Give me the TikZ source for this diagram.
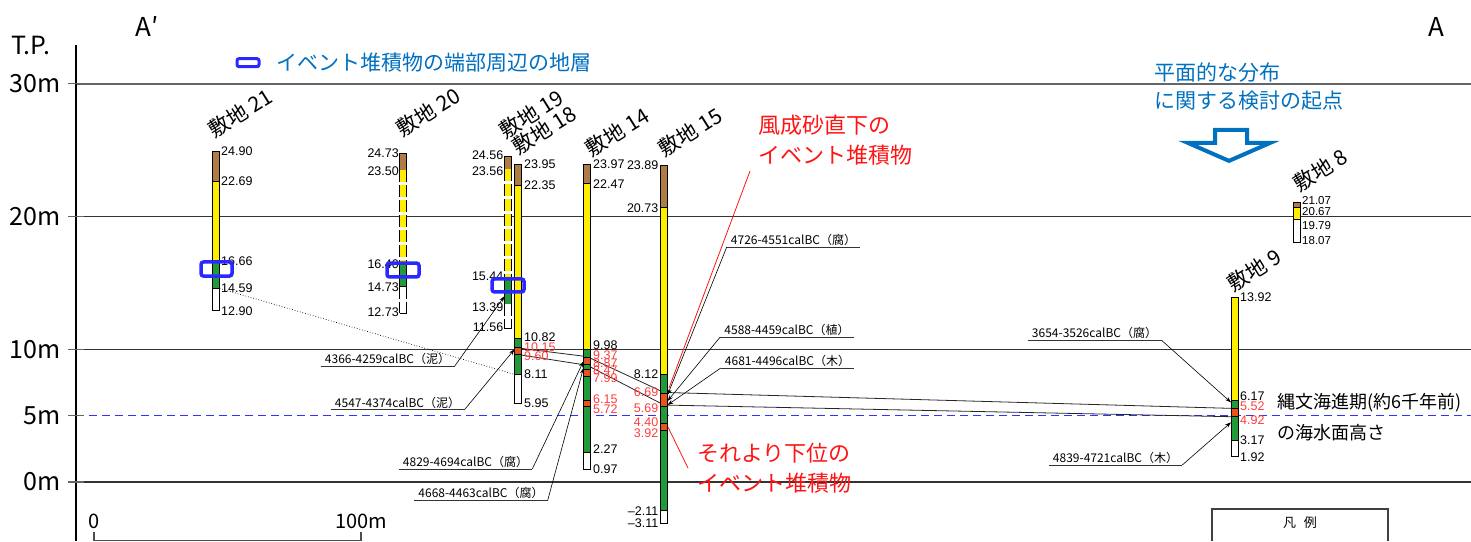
\documentclass[tikz,border=0pt]{standalone}
\usepackage{fontspec}
\setmainfont{Noto Sans CJK JP}
\newfontfamily\numfont{Liberation Sans}
\usetikzlibrary{arrows.meta}

\definecolor{soilbrown}{RGB}{176,124,70}
\definecolor{sandyellow}{RGB}{255,238,0}
\definecolor{claygreen}{RGB}{34,154,58}
\definecolor{eventorange}{RGB}{232,84,28}
\definecolor{redlabel}{RGB}{255,60,60}
\definecolor{notered}{RGB}{255,20,20}
\definecolor{noteblue}{RGB}{0,112,192}
\definecolor{markblue}{RGB}{40,40,255}
\definecolor{seablue}{RGB}{50,50,255}

% one layer of a boring column: x, top, bottom, colour
\newcommand{\layer}[4]{\filldraw[fill=#4, draw=black, line width=0.7pt] (#1-3.5,#2) rectangle (#1+3.5,#3);}
% same, but an uncertain layer (dashed)
\newcommand{\dlayer}[4]{\draw[#4, line width=7pt, dash pattern=on 12pt off 3pt] (#1,#2) -- (#1,#3);
  \draw[line width=0.7pt, dash pattern=on 12pt off 3pt] (#1-3.5,#2) -- (#1-3.5,#3) (#1+3.5,#2) -- (#1+3.5,#3);
  \draw[line width=0.7pt] (#1-3.5,#3) -- (#1+3.5,#3);}

\tikzset{
  depth/.style={font=\numfont\fontsize{12.5}{13}\selectfont, inner sep=0pt},
  site/.style={font=\fontsize{21}{22}\selectfont, rotate=32, inner sep=0pt},
  datebox/.style={font=\fontsize{12}{13}\selectfont, inner xsep=4pt, inner ysep=1.5pt, anchor=south},
  dateline/.style={line width=0.9pt, draw=black!80},
  leader/.style={line width=0.6pt, -{Stealth[length=6pt,width=4pt]}},
  markbox/.style={draw=markblue, line width=3.5pt, rounded corners=2.5pt},
  gridline/.style={line width=1.2pt, black!80},
  axislabel/.style={font=\fontsize{25}{26}\selectfont, inner sep=0pt},
  corr/.style={line width=0.8pt, black!85},
  sealevel/.style={draw=seablue, line width=1.6pt, dash pattern=on 8pt off 5pt},
}

\begin{document}
\begin{tikzpicture}[x=1pt, y=13.27pt]
\useasboundingbox (0,-4.446) rectangle (1471,36.323);

% elevation axis and level lines
\draw[line width=1.5pt, black!60] (76,30) -- (1471,30);
\draw[gridline] (76,20) -- (1471,20);
\draw[gridline] (76,10) -- (1471,10);
\draw[gridline] (76,0) -- (1471,0);
\draw[sealevel] (76,5) -- (1471,5);
\draw[line width=1.5pt] (76,32.9) -- (76,-4.446);
\foreach \h in {30,20,10,5,0} \draw[line width=1.2pt, black!60] (68,\h) -- (84,\h);
\node[axislabel] (tp) at (31,32.86) {T.P.};
\foreach \h/\t in {30/30m, 20/20m, 10/10m, 5/5m, 0/0m}
  \node[axislabel, anchor=east] (lv\h) at (61,\h) {\t};
\node[axislabel, font=\fontsize{26}{27}\selectfont] (aprime) at (147,34.29) {A′};
\node[axislabel, font=\fontsize{26}{27}\selectfont] (aend) at (1436,34.29) {A};

% legend for the blue frames
\draw[markblue, line width=3pt, rounded corners=2pt] (237,31.9) rectangle (259,31.3);
\node[text=noteblue, font=\fontsize{21}{22}\selectfont, anchor=west] (legtext) at (273,31.6) {イベント堆積物の端部周辺の地層};

% correlation of the event deposits
\draw[corr] (521,10.07) -- (587,9.45) -- (664,6.75) -- (1231,5.55);
\draw[corr] (521,9.57) -- (587,8.8) -- (664,5.8) -- (1231,4.92);
\draw[line width=0.7pt, dotted] (219.5,14.59) -- (514.5,8.11);

% 敷地21
\layer{216}{24.90}{22.69}{soilbrown}
\layer{216}{22.69}{16.66}{sandyellow}
\layer{216}{16.66}{14.59}{claygreen}
\layer{216}{14.59}{12.90}{white}
\foreach \t/\y [count=\i] in {24.90/24.90, 22.69/22.69, 16.66/16.66, 14.59/14.59, 12.90/12.90}
  \node[depth, anchor=west] (n21-\i) at (221,\y) {\t};

% 敷地20
\layer{403}{24.73}{23.50}{soilbrown}
\dlayer{403}{23.50}{16.40}{sandyellow}
\layer{403}{16.40}{14.73}{claygreen}
\dlayer{403}{14.73}{12.73}{white}
\foreach \t/\y [count=\i] in {24.73/24.8, 23.50/23.45, 16.40/16.4, 14.73/14.65, 12.73/12.8}
  \node[depth, anchor=east] (n20-\i) at (399,\y) {\t};

% 敷地19
\layer{508}{24.56}{23.56}{soilbrown}
\dlayer{508}{23.56}{15.44}{sandyellow}
\layer{508}{15.44}{13.39}{claygreen}
\dlayer{508}{13.39}{11.56}{white}
\foreach \t/\y [count=\i] in {24.56/24.62, 23.56/23.45, 15.44/15.47, 13.39/13.15, 11.56/11.7}
  \node[depth, anchor=east] (n19-\i) at (503.5,\y) {\t};

% 敷地18
\layer{518}{23.95}{22.35}{soilbrown}
\layer{518}{22.35}{10.82}{sandyellow}
\layer{518}{10.82}{10.15}{claygreen}
\layer{518}{10.15}{9.60}{eventorange}
\layer{518}{9.60}{8.11}{claygreen}
\layer{518}{8.11}{5.95}{white}
\foreach \t/\y/\c [count=\i] in {23.95/23.95/black, 22.35/22.35/black, 10.82/10.92/black,
    10.15/10.15/redlabel, 9.60/9.45/redlabel, 8.11/8.11/black, 5.95/5.95/black}
  \node[depth, text=\c, anchor=west] (n18-\i) at (524,\y) {\t};

% 敷地14
\layer{587}{23.97}{22.47}{soilbrown}
\layer{587}{22.47}{9.98}{sandyellow}
\layer{587}{9.98}{9.37}{claygreen}
\layer{587}{9.37}{8.87}{eventorange}
\layer{587}{8.87}{8.47}{claygreen}
\layer{587}{8.47}{7.99}{eventorange}
\layer{587}{7.99}{6.15}{claygreen}
\layer{587}{6.15}{5.72}{eventorange}
\layer{587}{5.72}{2.27}{claygreen}
\layer{587}{2.27}{0.97}{white}
\foreach \t/\y/\c [count=\i] in {23.97/23.97/black, 22.47/22.47/black, 9.98/10.3/black,
    9.37/9.57/redlabel, 8.87/8.97/redlabel, 8.47/8.4/redlabel, 7.99/7.84/redlabel,
    6.15/6.25/redlabel, 5.72/5.5/redlabel, 2.27/2.45/black, 0.97/0.96/black}
  \node[depth, text=\c, anchor=west] (n14-\i) at (593,\y) {\t};

% 敷地15
\layer{664}{23.89}{20.73}{soilbrown}
\layer{664}{20.73}{8.12}{sandyellow}
\layer{664}{8.12}{6.69}{claygreen}
\layer{664}{6.69}{5.69}{eventorange}
\layer{664}{5.69}{4.40}{claygreen}
\layer{664}{4.40}{3.92}{eventorange}
\layer{664}{3.92}{-2.11}{claygreen}
\layer{664}{-2.11}{-3.11}{white}
\foreach \t/\y/\c [count=\i] in {23.89/23.85/black, 20.73/20.6/black, 8.12/8.1/black,
    6.69/6.8/redlabel, 5.69/5.55/redlabel, 4.40/4.47/redlabel, 3.92/3.65/redlabel,
    –2.11/-2.2/black, –3.11/-3.1/black}
  \node[depth, text=\c, anchor=east] (n15-\i) at (658.5,\y) {\t};

% 敷地9
\layer{1234.5}{13.92}{6.17}{sandyellow}
\layer{1234.5}{6.17}{5.52}{claygreen}
\layer{1234.5}{5.52}{4.92}{eventorange}
\layer{1234.5}{4.92}{3.17}{claygreen}
\layer{1234.5}{3.17}{1.92}{white}
\foreach \t/\y/\c [count=\i] in {13.92/13.9/black, 6.17/6.5/black, 5.52/5.7/redlabel,
    4.92/4.65/redlabel, 3.17/3.17/black, 1.92/1.86/black}
  \node[depth, text=\c, anchor=west] (n9-\i) at (1240,\y) {\t};

% 敷地8
\layer{1297}{21.07}{20.67}{soilbrown}
\layer{1297}{20.67}{19.79}{sandyellow}
\layer{1297}{19.79}{18.07}{white}
\foreach \t/\y [count=\i] in {21.07/21.18, 20.67/20.35, 19.79/19.29, 18.07/18.16}
  \node[depth, font=\numfont\fontsize{11.5}{12}\selectfont, anchor=west] (n8-\i) at (1302,\y) {\t};

% site names
\node[site] (s21) at (240,27.81) {敷地 21};
\node[site] (s20) at (428,27.88) {敷地 20};
\node[site] (s19) at (531,27.73) {敷地 19};
\node[site] (s18) at (544,26.53) {敷地 18};
\node[site] (s14) at (617,26.38) {敷地 14};
\node[site] (s15) at (690,26.38) {敷地 15};
\node[site] (s8) at (1320,23.51) {敷地 8};
\node[site] (s9) at (1254,15.98) {敷地 9};

% frames round the ends of the event deposit
\draw[markbox] (201,16.58) rectangle (232,15.52);
\draw[markbox] (387,16.50) rectangle (419,15.45);
\draw[markbox] (492,15.30) rectangle (524,14.32);

% radiocarbon dates
\node[datebox] (c4726) at (793.5,17.71) {4726-4551calBC（腐）};
\node[datebox] (c4588) at (787,10.93) {4588-4459calBC（植）};
\node[datebox] (c4681) at (787.5,8.59) {4681-4496calBC（木）};
\node[datebox] (c4366) at (387.5,8.69) {4366-4259calBC（泥）};
\node[datebox] (c4547) at (397.5,5.43) {4547-4374calBC（泥）};
\node[datebox] (c4829) at (465.5,0.98) {4829-4694calBC（腐）};
\node[datebox] (c4668) at (481,-1.36) {4668-4463calBC（腐）};
\node[datebox] (c3654) at (1094.5,10.70) {3654-3526calBC（腐）};
\node[datebox] (c4839) at (1115.5,1.28) {4839-4721calBC（木）};
\foreach \n in {4726,4588,4681,4366,4547,4829,4668,3654,4839}
  \draw[dateline] (c\n.south west) -- (c\n.south east);

\coordinate (t4726) at (667.5,6.55);
\coordinate (t4588) at (667.5,6.1);
\coordinate (t4681) at (667.5,5.8);
\coordinate (t4366) at (504.5,14.0);
\coordinate (t4547) at (514.5,10.0);
\coordinate (t4829) at (583.5,9.1);
\coordinate (t4668) at (583.5,8.6);
\coordinate (t3654) at (1231,6.0);
\coordinate (t4839) at (1231,4.5);
\foreach \n in {4726,4588,4681} \draw[leader] (c\n.south west) -- (t\n);
\foreach \n in {4366,4547,4829,4668,3654,4839} \draw[leader] (c\n.south east) -- (t\n);

% notes
\node[text=notered, font=\fontsize{22}{30}\selectfont, align=left, anchor=north west, inner sep=0pt]
  (aeolian) at (758,27.66) {風成砂直下の\\イベント堆積物};
\node[text=notered, font=\fontsize{22}{30}\selectfont, align=left, anchor=north west, inner sep=0pt]
  (lower) at (697,2.94) {それより下位の\\イベント堆積物};
\coordinate (aeolianfoot) at (750,23.44);
\coordinate (aeoliantip) at (669,7.08);
\coordinate (lowertip) at (668,4.14);
\coordinate (lowerfoot) at (688,1.05);
\draw[notered, line width=0.8pt] (aeolianfoot) -- (aeoliantip);
\draw[notered, line width=0.8pt] (lowertip) -- (lowerfoot);

\node[font=\fontsize{18}{31}\selectfont, align=left, anchor=west, inner sep=0pt]
  (jomon) at (1277,4.86) {縄文海進期(約6千年前)\\の海水面高さ};

\node[text=noteblue, font=\fontsize{21}{28}\selectfont, align=left, anchor=north west, inner sep=0pt]
  (origin) at (1154,31.6) {平面的な分布\\に関する検討の起点};
\draw[noteblue, line width=4pt, fill=white, line join=miter]
  (1215,26.53) -- (1247,26.53) -- (1247,25.55) -- (1270,25.55) -- (1229,24.2)
  -- (1188,25.55) -- (1215,25.55) -- cycle;

% scale bar
\node[font=\fontsize{20}{21}\selectfont] (sc0) at (94,-2.94) {0};
\node[font=\fontsize{20}{21}\selectfont] (sc100) at (361,-2.94) {100m};
\draw[line width=1.2pt, black!70] (94,-3.75) -- (94,-4.4) -- (361,-4.4) -- (361,-3.75);

% legend frame
\draw[line width=1.5pt, black!75] (1212,-4.446) |- (1388,-2.03) -- (1388,-4.446);
\node[font=\fontsize{13}{14}\selectfont] (hanrei) at (1300,-3.09) {凡\hspace{0.6em}例};
\end{tikzpicture}
\end{document}
